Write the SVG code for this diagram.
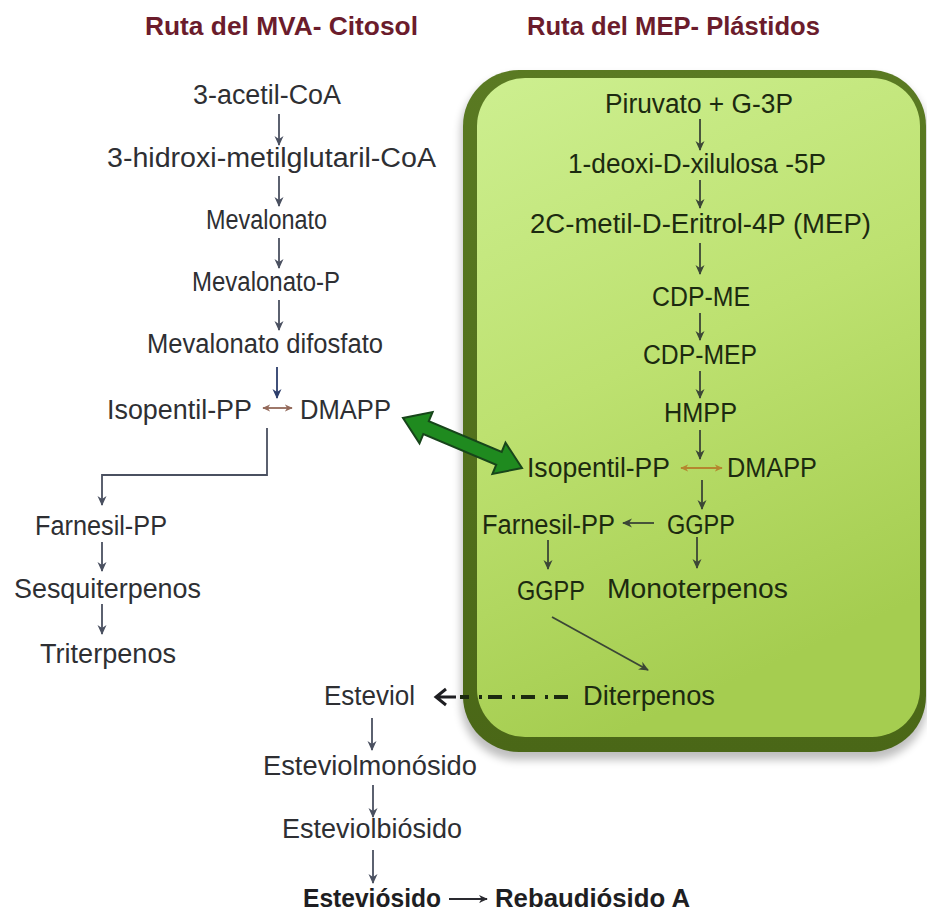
<svg xmlns="http://www.w3.org/2000/svg" width="927" height="911" viewBox="0 0 927 911">
<defs>
<style>
text{font-family:"Liberation Sans",Arial,sans-serif;font-size:27px;text-anchor:start}
.l{fill:#2e2f33}
.g{fill:#1c2a10}
.t{font-weight:bold;font-size:25px;fill:#6b1c2c}
.b{font-weight:bold;font-size:25px;fill:#1e1e22}
.a{fill:none;stroke-width:1.8}
.ag{stroke:#4a5060}
.an{stroke:#2c3d6b}
.ab{stroke:#3b4636}
</style>
<linearGradient id="inner" x1="0" y1="0" x2="0.3" y2="1">
<stop offset="0" stop-color="#cdef90"/>
<stop offset="0.5" stop-color="#bde170"/>
<stop offset="1" stop-color="#a5cd50"/>
</linearGradient>
<linearGradient id="outer" x1="0" y1="0" x2="0" y2="1">
<stop offset="0" stop-color="#5a7a22"/>
<stop offset="1" stop-color="#4a6717"/>
</linearGradient>
<filter id="sh" x="-5%" y="-5%" width="110%" height="110%"><feGaussianBlur stdDeviation="4"/></filter>
<marker id="mg" viewBox="0 0 10 10" refX="9" refY="5" markerWidth="10" markerHeight="10" markerUnits="userSpaceOnUse" orient="auto"><path d="M0,0.5 L10,5 L0,9.5 L3,5 z" fill="#4a5060"/></marker>
<marker id="mn" viewBox="0 0 10 10" refX="9" refY="5" markerWidth="10" markerHeight="10" markerUnits="userSpaceOnUse" orient="auto"><path d="M0,0.5 L10,5 L0,9.5 L3,5 z" fill="#2c3d6b"/></marker>
<marker id="mb" viewBox="0 0 10 10" refX="9" refY="5" markerWidth="10" markerHeight="10" markerUnits="userSpaceOnUse" orient="auto"><path d="M0,0.5 L10,5 L0,9.5 L3,5 z" fill="#3b4636"/></marker>
<marker id="mr" viewBox="0 0 10 10" refX="9" refY="5" markerWidth="8" markerHeight="8" markerUnits="userSpaceOnUse" orient="auto-start-reverse"><path d="M0,0.5 L10,5 L0,9.5 L3,5 z" fill="#93695a"/></marker>
<marker id="mo" viewBox="0 0 10 10" refX="9" refY="5" markerWidth="8" markerHeight="8" markerUnits="userSpaceOnUse" orient="auto-start-reverse"><path d="M0,0.5 L10,5 L0,9.5 L3,5 z" fill="#b5862f"/></marker>
<marker id="mk" viewBox="0 0 10 10" refX="9" refY="5" markerWidth="9" markerHeight="9" markerUnits="userSpaceOnUse" orient="auto"><path d="M0,0.5 L10,5 L0,9.5 L3,5 z" fill="#2a2a30"/></marker>
</defs>
<rect width="927" height="911" fill="#ffffff"/>

<g id="plastid">
<rect x="461" y="76" width="466" height="684" rx="56" fill="#000" opacity="0.25" filter="url(#sh)"/>
<rect x="463" y="70" width="463" height="682" rx="56" fill="url(#outer)"/>
<rect x="477" y="78" width="443" height="659" rx="48" fill="url(#inner)"/>
</g>

<g id="titles">
<text id="title-mva" class="t" x="145" y="35" textLength="273" lengthAdjust="spacingAndGlyphs">Ruta del MVA- Citosol</text>
<text id="title-mep" class="t" x="527" y="35" textLength="293" lengthAdjust="spacingAndGlyphs">Ruta del MEP- Plástidos</text>
</g>

<g id="mva-nodes" class="l">
<g id="n-acetil"><text x="193" y="104" textLength="148" lengthAdjust="spacingAndGlyphs">3-acetil-CoA</text></g>
<g id="n-hidroxi"><text x="107" y="167" textLength="329" lengthAdjust="spacingAndGlyphs">3-hidroxi-metilglutaril-CoA</text></g>
<g id="n-mevalonato"><text x="206" y="229" textLength="121" lengthAdjust="spacingAndGlyphs">Mevalonato</text></g>
<g id="n-mevalonatop"><text x="192" y="291" textLength="148" lengthAdjust="spacingAndGlyphs">Mevalonato-P</text></g>
<g id="n-difosfato"><text x="147" y="353" textLength="236" lengthAdjust="spacingAndGlyphs">Mevalonato difosfato</text></g>
<g id="n-ipp1"><text x="107" y="419" textLength="145" lengthAdjust="spacingAndGlyphs">Isopentil-PP</text></g>
<g id="n-dmapp1"><text x="300" y="419" textLength="91" lengthAdjust="spacingAndGlyphs">DMAPP</text></g>
<g id="n-farnesil1"><text x="35" y="535" textLength="132" lengthAdjust="spacingAndGlyphs">Farnesil-PP</text></g>
<g id="n-sesqui"><text x="14" y="598" textLength="187" lengthAdjust="spacingAndGlyphs">Sesquiterpenos</text></g>
<g id="n-triter"><text x="40" y="663" textLength="136" lengthAdjust="spacingAndGlyphs">Triterpenos</text></g>
<g id="n-esteviol"><text x="324" y="705" textLength="91" lengthAdjust="spacingAndGlyphs">Esteviol</text></g>
<g id="n-mono"><text x="263" y="775" textLength="214" lengthAdjust="spacingAndGlyphs">Esteviolmonósido</text></g>
<g id="n-bio"><text x="282" y="838" textLength="180" lengthAdjust="spacingAndGlyphs">Esteviolbiósido</text></g>
</g>
<g id="n-esteviosido"><text class="b" x="303" y="907" textLength="138" lengthAdjust="spacingAndGlyphs">Esteviósido</text></g>
<g id="n-rebaudiosido"><text class="b" x="495" y="907" textLength="195" lengthAdjust="spacingAndGlyphs">Rebaudiósido A</text></g>

<g id="mep-nodes" class="g">
<g id="n-piruvato"><text x="605" y="113" textLength="188" lengthAdjust="spacingAndGlyphs">Piruvato + G-3P</text></g>
<g id="n-deoxi"><text x="568" y="173" textLength="258" lengthAdjust="spacingAndGlyphs">1-deoxi-D-xilulosa -5P</text></g>
<g id="n-mep"><text x="530" y="233" textLength="341" lengthAdjust="spacingAndGlyphs">2C-metil-D-Eritrol-4P (MEP)</text></g>
<g id="n-cdpme"><text x="652" y="306" textLength="98" lengthAdjust="spacingAndGlyphs">CDP-ME</text></g>
<g id="n-cdpmep"><text x="643" y="364" textLength="114" lengthAdjust="spacingAndGlyphs">CDP-MEP</text></g>
<g id="n-hmpp"><text x="664" y="422" textLength="73" lengthAdjust="spacingAndGlyphs">HMPP</text></g>
<g id="n-ipp2"><text x="527" y="477" textLength="143" lengthAdjust="spacingAndGlyphs">Isopentil-PP</text></g>
<g id="n-dmapp2"><text x="727" y="477" textLength="90" lengthAdjust="spacingAndGlyphs">DMAPP</text></g>
<g id="n-farnesil2"><text x="482" y="534" textLength="133" lengthAdjust="spacingAndGlyphs">Farnesil-PP</text></g>
<g id="n-ggpp1"><text x="667" y="534" textLength="68" lengthAdjust="spacingAndGlyphs">GGPP</text></g>
<g id="n-ggpp2"><text x="517" y="600" textLength="68" lengthAdjust="spacingAndGlyphs">GGPP</text></g>
<g id="n-monoterp"><text x="607" y="598" textLength="181" lengthAdjust="spacingAndGlyphs">Monoterpenos</text></g>
<g id="n-diterp"><text x="583" y="705" textLength="132" lengthAdjust="spacingAndGlyphs">Diterpenos</text></g>
</g>

<g id="connectors">
<line class="a ag" x1="279" y1="114" x2="279" y2="145" marker-end="url(#mg)"/>
<line class="a ag" x1="279" y1="176" x2="279" y2="206" marker-end="url(#mg)"/>
<line class="a ag" x1="279" y1="238" x2="279" y2="268" marker-end="url(#mg)"/>
<line class="a ag" x1="279" y1="300" x2="279" y2="330" marker-end="url(#mg)"/>
<line class="a an" x1="277" y1="367" x2="277" y2="398" marker-end="url(#mn)"/>
<line class="a" stroke="#93695a" stroke-width="2" x1="263" y1="408" x2="292" y2="408" marker-start="url(#mr)" marker-end="url(#mr)"/>
<polyline class="a ag" stroke-width="2" points="267,428 267,475 102,475 102,505" marker-end="url(#mg)"/>
<line class="a ag" x1="102" y1="542" x2="102" y2="571" marker-end="url(#mg)"/>
<line class="a ag" x1="102" y1="604" x2="102" y2="634" marker-end="url(#mg)"/>
<line class="a ag" x1="372" y1="718" x2="372" y2="750" marker-end="url(#mg)"/>
<line class="a ag" x1="373" y1="785" x2="373" y2="817" marker-end="url(#mg)"/>
<line class="a ag" x1="373" y1="850" x2="373" y2="883" marker-end="url(#mg)"/>
<line class="a" stroke="#2a2a30" stroke-width="1.6" x1="449" y1="899" x2="487" y2="899" marker-end="url(#mk)"/>

<line class="a ab" x1="700" y1="119" x2="700" y2="150" marker-end="url(#mb)"/>
<line class="a ab" x1="700" y1="180" x2="700" y2="208" marker-end="url(#mb)"/>
<line class="a ab" x1="700" y1="243" x2="700" y2="274" marker-end="url(#mb)"/>
<line class="a ab" x1="700" y1="313" x2="700" y2="340" marker-end="url(#mb)"/>
<line class="a ab" x1="700" y1="371" x2="700" y2="398" marker-end="url(#mb)"/>
<line class="a ab" x1="700" y1="430" x2="700" y2="459" marker-end="url(#mb)"/>
<line class="a" stroke="#b5862f" stroke-width="2" x1="681" y1="468" x2="722" y2="468" marker-start="url(#mo)" marker-end="url(#mo)"/>
<line class="a ab" x1="702" y1="480" x2="702" y2="509" marker-end="url(#mb)"/>
<line class="a ab" x1="654" y1="523" x2="623" y2="523" marker-end="url(#mb)"/>
<line class="a ab" x1="697" y1="537" x2="697" y2="568" marker-end="url(#mb)"/>
<line class="a ab" x1="548" y1="540" x2="548" y2="569" marker-end="url(#mb)"/>
<line class="a ab" x1="552" y1="617" x2="648" y2="670" marker-end="url(#mb)"/>

<line x1="568" y1="697" x2="460" y2="697" stroke="#1c2a10" stroke-width="4" stroke-dasharray="14 6 3 10" fill="none"/>
<path d="M456,697 H436 M446,689 L436,697 L446,705" stroke="#1e1e22" stroke-width="3" fill="none"/>

<polygon id="green-arrow" points="403,418 419.5,443.4 423.3,434.1 496.2,464.8 492.4,474 522,468 505.5,442.7 501.7,451.9 428.8,421.2 432.6,412" fill="#1f8a1f" stroke="#17451a" stroke-width="2" stroke-linejoin="miter"/>
</g>
</svg>
